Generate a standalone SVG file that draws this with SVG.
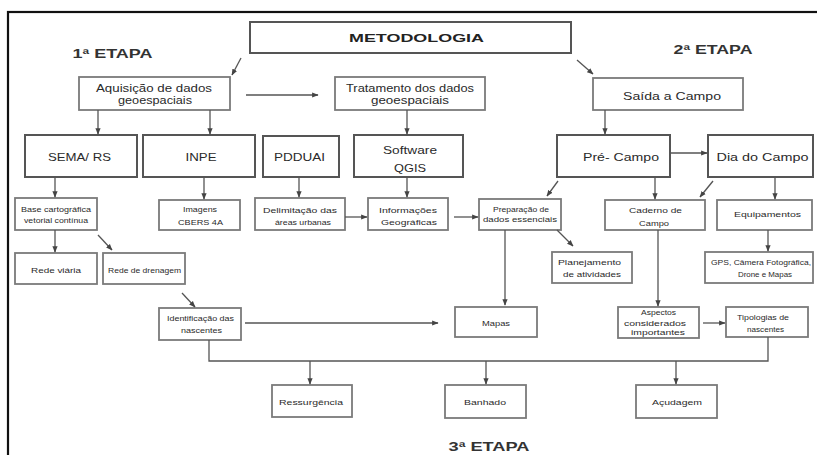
<svg xmlns="http://www.w3.org/2000/svg" width="817" height="455" viewBox="0 0 817 455">
<style>
  .bg{fill:#ffffff}
  .frame{fill:none;stroke:#111;stroke-width:2.2}
  .big rect{fill:#fff;stroke:#555;stroke-width:2}
  .sm rect{fill:#fff;stroke:#7a7a7a;stroke-width:1.8}
  text{font-family:"Liberation Sans",Arial,sans-serif;fill:#2a2a2a;text-anchor:middle}
  .big text{font-size:11px}
  .sm text{font-size:8px}
  .sm text.m{font-size:10px}
  .title{font-size:13.5px;font-weight:bold;fill:#222}
  .etapa{font-size:13px;font-weight:bold;fill:#333}
  .conn line,.conn polyline{stroke:#555;stroke-width:1.3;fill:none}
</style>
<defs>
  <marker id="ah" viewBox="0 0 10 10" refX="9" refY="5" markerWidth="5" markerHeight="5" orient="auto">
    <path d="M0,1 L10,5 L0,9 z" fill="#444"/>
  </marker>
</defs>
<rect class="bg" x="0" y="0" width="817" height="455"/>
<rect class="frame" x="8" y="12" width="820" height="460"/>

<text class="etapa" x="112.5" y="58" textLength="80" lengthAdjust="spacingAndGlyphs">1ª ETAPA</text>
<text class="etapa" x="713" y="54" textLength="79" lengthAdjust="spacingAndGlyphs">2ª ETAPA</text>
<text class="etapa" x="489" y="451" textLength="81" lengthAdjust="spacingAndGlyphs">3ª ETAPA</text>

<g id="metodologia" class="big"><rect x="250" y="22" width="321" height="31"/><text class="title" x="416.5" y="42" textLength="135" lengthAdjust="spacingAndGlyphs">METODOLOGIA</text></g>

<g id="aquisicao" class="sm"><rect x="79" y="77" width="151" height="33"/><text class="m" x="154" y="91.5" textLength="116" lengthAdjust="spacingAndGlyphs">Aquisição de dados</text><text class="m" x="155" y="103.5" textLength="74" lengthAdjust="spacingAndGlyphs">geoespaciais</text></g>
<g id="tratamento" class="sm"><rect x="335" y="77" width="150" height="33"/><text class="m" x="410" y="91.5" textLength="128" lengthAdjust="spacingAndGlyphs">Tratamento dos dados</text><text class="m" x="410" y="103.5" textLength="78" lengthAdjust="spacingAndGlyphs">geoespaciais</text></g>
<g id="saida" class="sm"><rect x="593" y="78" width="150" height="32"/><text class="m" x="672" y="99.5" textLength="98" lengthAdjust="spacingAndGlyphs" style="font-size:10.5px">Saída a Campo</text></g>

<g id="sema" class="big"><rect x="25" y="135" width="112" height="42"/><text x="79.5" y="161" textLength="63" lengthAdjust="spacingAndGlyphs">SEMA/ RS</text></g>
<g id="inpe" class="big"><rect x="143" y="135" width="112" height="42"/><text x="201" y="161" textLength="31" lengthAdjust="spacingAndGlyphs">INPE</text></g>
<g id="pdduai" class="big"><rect x="263" y="136" width="76" height="41"/><text x="299.5" y="161" textLength="51" lengthAdjust="spacingAndGlyphs">PDDUAI</text></g>
<g id="qgis" class="big"><rect x="354" y="135" width="109" height="42"/><text x="410" y="154" textLength="54" lengthAdjust="spacingAndGlyphs">Software</text><text x="410" y="172" textLength="32" lengthAdjust="spacingAndGlyphs">QGIS</text></g>
<g id="precampo" class="big"><rect x="557" y="135" width="113" height="42"/><text x="621" y="161" textLength="76" lengthAdjust="spacingAndGlyphs">Pré- Campo</text></g>
<g id="diacampo" class="big"><rect x="708" y="135" width="105" height="42"/><text x="762.5" y="161" textLength="92" lengthAdjust="spacingAndGlyphs">Dia do Campo</text></g>

<g id="base" class="sm"><rect x="15" y="198" width="82" height="32"/><text x="56" y="212" textLength="70" lengthAdjust="spacingAndGlyphs">Base cartográfica</text><text x="56" y="223" textLength="64" lengthAdjust="spacingAndGlyphs">vetorial contínua</text></g>
<g id="imagens" class="sm"><rect x="159" y="200" width="81" height="30"/><text x="200" y="212" textLength="34" lengthAdjust="spacingAndGlyphs">Imagens</text><text x="200.5" y="225" textLength="45" lengthAdjust="spacingAndGlyphs">CBERS 4A</text></g>
<g id="delimitacao" class="sm"><rect x="255" y="198" width="90" height="32"/><text x="300" y="213" textLength="74" lengthAdjust="spacingAndGlyphs">Delimitação das</text><text x="303" y="225" textLength="56" lengthAdjust="spacingAndGlyphs">áreas urbanas</text></g>
<g id="informacoes" class="sm"><rect x="368" y="198" width="80" height="32"/><text x="408" y="213" textLength="58" lengthAdjust="spacingAndGlyphs">Informações</text><text x="409" y="225" textLength="56" lengthAdjust="spacingAndGlyphs">Geográficas</text></g>
<g id="preparacao" class="sm"><rect x="479" y="199" width="82" height="31"/><text x="521" y="212" textLength="56" lengthAdjust="spacingAndGlyphs">Preparação de</text><text x="520" y="222" textLength="74" lengthAdjust="spacingAndGlyphs">dados essenciais</text></g>
<g id="caderno" class="sm"><rect x="605" y="200" width="100" height="30"/><text x="655.5" y="213" textLength="53" lengthAdjust="spacingAndGlyphs">Caderno de</text><text x="654" y="226" textLength="30" lengthAdjust="spacingAndGlyphs">Campo</text></g>
<g id="equipamentos" class="sm"><rect x="717" y="200" width="95" height="30"/><text x="767.5" y="217" textLength="67" lengthAdjust="spacingAndGlyphs">Equipamentos</text></g>

<g id="redeviaria" class="sm"><rect x="15" y="253" width="82" height="31"/><text x="56" y="273" textLength="50" lengthAdjust="spacingAndGlyphs">Rede viária</text></g>
<g id="rededrenagem" class="sm"><rect x="103" y="253" width="82" height="31"/><text x="144.5" y="273" textLength="73" lengthAdjust="spacingAndGlyphs">Rede de drenagem</text></g>
<g id="planejamento" class="sm"><rect x="552" y="252" width="80" height="31"/><text x="589.5" y="265" textLength="63" lengthAdjust="spacingAndGlyphs">Planejamento</text><text x="592" y="277" textLength="58" lengthAdjust="spacingAndGlyphs">de atividades</text></g>
<g id="gps" class="sm"><rect x="705" y="252" width="108" height="31"/><text x="761" y="265" textLength="100" lengthAdjust="spacingAndGlyphs">GPS, Câmera Fotográfica,</text><text x="765" y="277" textLength="54" lengthAdjust="spacingAndGlyphs">Drone e Mapas</text></g>

<g id="identificacao" class="sm"><rect x="159" y="308" width="82" height="32"/><text x="200.5" y="321" textLength="67" lengthAdjust="spacingAndGlyphs">Identificação das</text><text x="201.5" y="333" textLength="41" lengthAdjust="spacingAndGlyphs">nascentes</text></g>
<g id="mapas" class="sm"><rect x="455" y="307" width="82" height="30"/><text x="496" y="326" textLength="28" lengthAdjust="spacingAndGlyphs">Mapas</text></g>
<g id="aspectos" class="sm"><rect x="618" y="307" width="81" height="31"/><text x="658.5" y="315" textLength="35" lengthAdjust="spacingAndGlyphs" style="font-size:7.5px">Aspectos</text><text x="655" y="326" textLength="62" lengthAdjust="spacingAndGlyphs" style="font-size:7.5px">considerados</text><text x="658" y="335" textLength="54" lengthAdjust="spacingAndGlyphs" style="font-size:7.5px">importantes</text></g>
<g id="tipologias" class="sm"><rect x="726" y="307" width="82" height="30"/><text x="763" y="320" textLength="52" lengthAdjust="spacingAndGlyphs">Tipologias de</text><text x="765.5" y="332" textLength="37" lengthAdjust="spacingAndGlyphs">nascentes</text></g>

<g id="ressurgencia" class="sm"><rect x="272" y="385" width="80" height="32"/><text x="311" y="405" textLength="64" lengthAdjust="spacingAndGlyphs">Ressurgência</text></g>
<g id="banhado" class="sm"><rect x="445" y="385" width="81" height="33"/><text x="485" y="405" textLength="42" lengthAdjust="spacingAndGlyphs">Banhado</text></g>
<g id="acudagem" class="sm"><rect x="636" y="385" width="81" height="33"/><text x="677" y="405" textLength="50" lengthAdjust="spacingAndGlyphs">Açudagem</text></g>

<g id="connectors" class="conn">
  <line x1="241" y1="58" x2="232" y2="75" marker-end="url(#ah)"/>
  <line x1="577" y1="60" x2="593" y2="74" marker-end="url(#ah)"/>
  <line x1="246" y1="95" x2="318" y2="95" marker-end="url(#ah)"/>
  <line x1="98" y1="110" x2="98" y2="134" marker-end="url(#ah)"/>
  <line x1="210" y1="110" x2="210" y2="134" marker-end="url(#ah)"/>
  <line x1="407" y1="110" x2="407" y2="134" marker-end="url(#ah)"/>
  <line x1="605" y1="110" x2="605" y2="134" marker-end="url(#ah)"/>
  <line x1="670" y1="153" x2="707" y2="153" marker-end="url(#ah)"/>
  <line x1="55" y1="177" x2="55" y2="197" marker-end="url(#ah)"/>
  <line x1="204" y1="177" x2="204" y2="199" marker-end="url(#ah)"/>
  <line x1="299" y1="177" x2="299" y2="197" marker-end="url(#ah)"/>
  <line x1="407" y1="177" x2="407" y2="197" marker-end="url(#ah)"/>
  <line x1="345" y1="217" x2="367" y2="217" marker-end="url(#ah)"/>
  <line x1="454" y1="217" x2="478" y2="217" marker-end="url(#ah)"/>
  <line x1="558" y1="181" x2="547" y2="196" marker-end="url(#ah)"/>
  <line x1="655" y1="177" x2="655" y2="199" marker-end="url(#ah)"/>
  <line x1="713" y1="181" x2="700" y2="197" marker-end="url(#ah)"/>
  <line x1="775" y1="177" x2="775" y2="199" marker-end="url(#ah)"/>
  <line x1="768" y1="230" x2="768" y2="251" marker-end="url(#ah)"/>
  <line x1="557" y1="230" x2="573" y2="246" marker-end="url(#ah)"/>
  <line x1="55" y1="230" x2="55" y2="252" marker-end="url(#ah)"/>
  <line x1="98" y1="235" x2="112" y2="250" marker-end="url(#ah)"/>
  <line x1="182" y1="293" x2="195" y2="307" marker-end="url(#ah)"/>
  <line x1="245" y1="323" x2="438" y2="323" marker-end="url(#ah)"/>
  <line x1="505" y1="230" x2="505" y2="305" marker-end="url(#ah)"/>
  <line x1="658" y1="230" x2="658" y2="306" marker-end="url(#ah)"/>
  <line x1="703" y1="323" x2="725" y2="323" marker-end="url(#ah)"/>
  <polyline points="209,340 209,361 768,361 768,337"/>
  <line x1="310" y1="361" x2="310" y2="384" marker-end="url(#ah)"/>
  <line x1="486" y1="361" x2="486" y2="384" marker-end="url(#ah)"/>
  <line x1="676" y1="361" x2="676" y2="384" marker-end="url(#ah)"/>
</g>
</svg>
